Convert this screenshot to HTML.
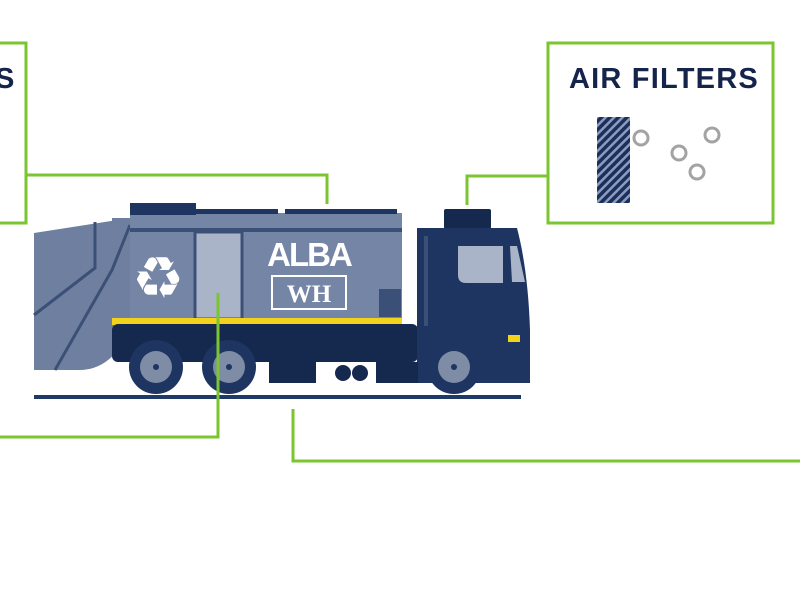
<!DOCTYPE html>
<html><head><meta charset="utf-8"><style>
html,body{margin:0;padding:0;background:#fff;width:800px;height:600px;overflow:hidden}
svg{display:block}
</style></head><body>
<svg width="800" height="600" viewBox="0 0 800 600" style="font-family:'Liberation Sans','DejaVu Sans',sans-serif">
<defs>
<pattern id="h" width="6" height="6" patternUnits="userSpaceOnUse" patternTransform="rotate(-45)">
<rect width="6" height="6" fill="#1b2f5c"/><rect width="6" height="2.5" fill="#8d9cbc"/>
</pattern>
</defs>
<g fill="none" stroke="#7ac530" stroke-width="3">
<polyline points="0,43 26,43 26,223 0,223"/>
<polyline points="26,175 327,175 327,204"/>
<rect x="548" y="43" width="225" height="180"/>
<polyline points="548,176 467,176 467,205"/>
<polyline points="218,293 218,437 0,437"/>
<polyline points="293,409 293,461 800,461"/>
</g>
<text x="-5" y="88" font-size="29" font-weight="bold" fill="#14244a">S</text>
<text x="569" y="88" font-size="29" font-weight="bold" fill="#14244a" letter-spacing="1.2">AIR FILTERS</text>
<rect x="597" y="117" width="33" height="86" fill="url(#h)"/>
<g fill="none" stroke="#a3a3a3" stroke-width="3">
<circle cx="641" cy="138" r="7"/><circle cx="712" cy="135" r="7"/>
<circle cx="679" cy="153" r="7"/><circle cx="697" cy="172" r="7"/>
</g>
<rect x="34" y="395" width="487" height="4" fill="#1f3a68"/>
<path d="M34,233 L130,218 L130,332 Q110,370 80,370 L34,370 Z" fill="#6f7f9f"/>
<rect x="112" y="218" width="20" height="110" fill="#6f7f9f"/>
<path d="M95,222 L95,268 L34,315" stroke="#3b5077" stroke-width="3" fill="none"/>
<path d="M130,225 L112,270 L55,370" stroke="#3b5077" stroke-width="3" fill="none"/>
<rect x="130" y="213" width="272" height="108" fill="#7585a5"/>
<rect x="130" y="203" width="66" height="12" fill="#1e3461"/>
<rect x="196" y="209" width="82" height="5" fill="#1e3461"/>
<rect x="285" y="209" width="112" height="5" fill="#1e3461"/>
<rect x="130" y="228" width="272" height="4" fill="#3b5077"/>
<rect x="195" y="232" width="47" height="87" fill="#aab4c8" stroke="#3b5077" stroke-width="3"/>
<rect x="112" y="318" width="290" height="7" fill="#f2d21b"/>
<rect x="112" y="324" width="306" height="38" rx="6" fill="#15294f"/>
<rect x="379" y="289" width="22" height="28" fill="#3b5077"/>
<text x="158" y="298" font-size="58" fill="#fff" text-anchor="middle" style="font-family:'DejaVu Sans',sans-serif">♻</text>
<text x="309" y="266" font-size="33" font-weight="bold" fill="#fff" text-anchor="middle" letter-spacing="-2">ALBA</text>
<rect x="272" y="276" width="74" height="33" fill="none" stroke="#fff" stroke-width="2"/>
<text x="309" y="302" font-size="25" font-weight="bold" fill="#fff" text-anchor="middle" style="font-family:'Liberation Serif',serif">WH</text>
<rect x="444" y="209" width="47" height="20" rx="2" fill="#15294f"/>
<path d="M417,228 L517,228 Q528,270 530,330 L530,383 L417,383 Z" fill="#1e3461"/>
<rect x="424" y="236" width="4" height="90" fill="#3b5077"/>
<path d="M458,246 L503,246 L503,283 L466,283 Q458,283 458,275 Z" fill="#aab4c8"/>
<path d="M510,246 L517,246 L525,282 L512,282 Z" fill="#aab4c8"/>
<rect x="508" y="335" width="12" height="7" fill="#f2d21b"/>
<rect x="269" y="362" width="47" height="21" fill="#15294f"/>
<circle cx="343" cy="373" r="8" fill="#15294f"/><circle cx="360" cy="373" r="8" fill="#15294f"/>
<rect x="376" y="362" width="42" height="21" fill="#15294f"/>
<g>
<circle cx="156" cy="367" r="27" fill="#1e3461"/><circle cx="156" cy="367" r="16" fill="#7f8ca6"/><circle cx="156" cy="367" r="3" fill="#1e3461"/>
<circle cx="229" cy="367" r="27" fill="#1e3461"/><circle cx="229" cy="367" r="16" fill="#7f8ca6"/><circle cx="229" cy="367" r="3" fill="#1e3461"/>
<circle cx="454" cy="367" r="27" fill="#1e3461"/><circle cx="454" cy="367" r="16" fill="#7f8ca6"/><circle cx="454" cy="367" r="3" fill="#1e3461"/>
</g>
<line x1="218" y1="293" x2="218" y2="400" stroke="#7ac530" stroke-width="3"/>
</svg>
</body></html>
